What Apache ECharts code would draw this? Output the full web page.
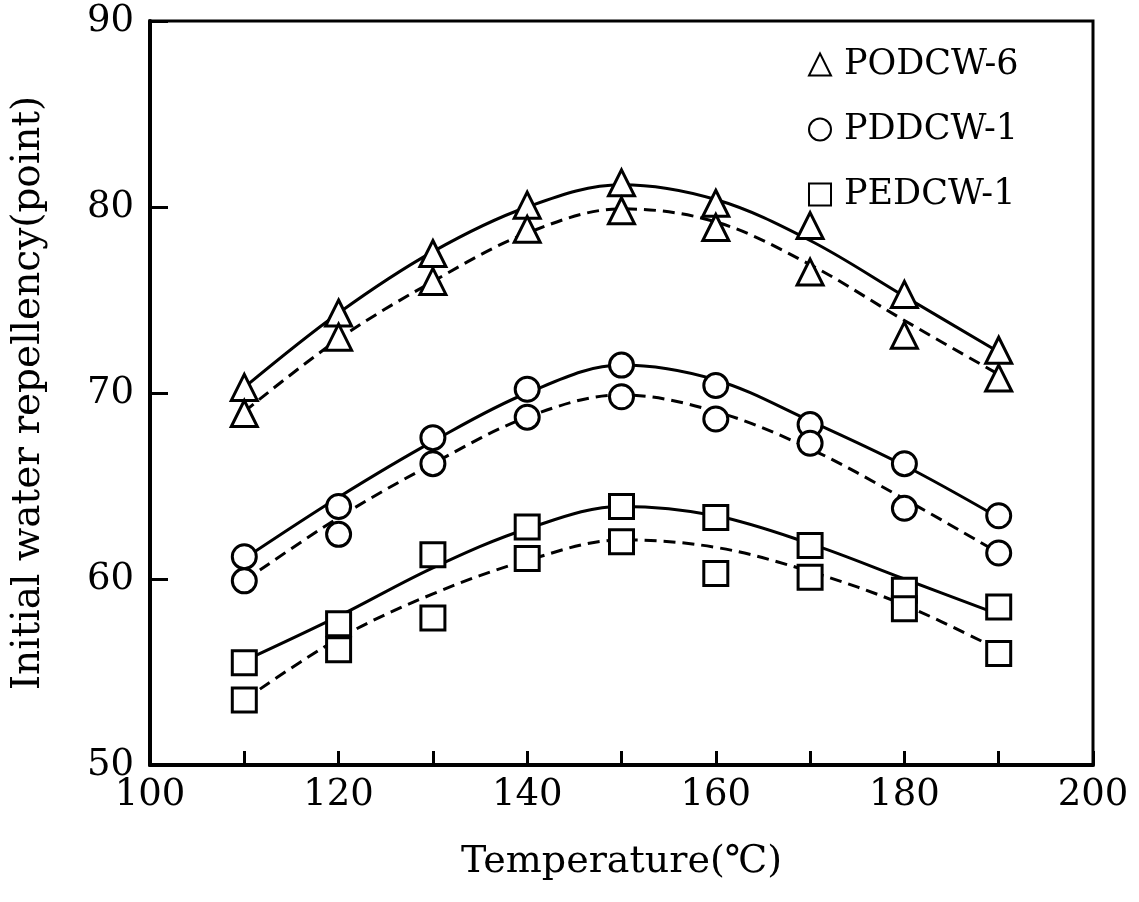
<!DOCTYPE html>
<html>
<head>
<meta charset="utf-8">
<script src="https://cdn.jsdelivr.net/npm/echarts@6/dist/echarts.min.js"></script>
<style>
  html, body { margin: 0; padding: 0; background: #fff; }
  #chart { width: 1139px; height: 902px; }
</style>
</head>
<body>
<div id="chart"></div>
<script>
// temperatures (℃)
var temps = [110, 120, 130, 140, 150, 160, 170, 180, 190];

// measured points, upper and lower set per fiber
var podcwUpper = [70.3, 74.3, 77.5, 80.1, 81.3, 80.2, 79.0, 75.3, 72.3];
var podcwLower = [68.9, 73.0, 76.0, 78.8, 79.8, 78.9, 76.5, 73.1, 70.8];
var pddcwUpper = [61.2, 63.9, 67.6, 70.2, 71.5, 70.4, 68.3, 66.2, 63.4];
var pddcwLower = [59.9, 62.4, 66.2, 68.7, 69.8, 68.6, 67.3, 63.8, 61.4];
var pedcwUpper = [55.5, 57.6, 61.3, 62.8, 63.9, 63.3, 61.8, 59.4, 58.5];
var pedcwLower = [53.5, 56.2, 57.9, 61.1, 62.0, 60.3, 60.1, 58.4, 56.0];

// fitted curves
var podcwFitSolid = [70.3, 74.3, 77.6, 80.0, 81.2, 80.4, 78.2, 75.2, 72.2];
var podcwFitDash  = [69.0, 72.9, 76.0, 78.6, 79.9, 79.2, 76.9, 73.9, 71.0];
var pddcwFitSolid = [61.1, 64.4, 67.4, 70.0, 71.5, 70.7, 68.5, 66.1, 63.3];
var pddcwFitDash  = [59.9, 63.3, 66.2, 68.7, 69.9, 69.0, 67.0, 64.3, 61.4];
var pedcwFitSolid = [55.6, 58.0, 60.6, 62.7, 63.9, 63.4, 61.9, 60.0, 58.1];
var pedcwFitDash  = [53.5, 56.8, 59.2, 61.0, 62.1, 61.7, 60.4, 58.6, 56.2];

var xTicks = [100, 120, 140, 160, 180, 200];
var yTicks = [50, 60, 70, 80, 90];

function pairs(ys) {
  return temps.map(function (t, i) { return [t, ys[i]]; });
}

var FONT = "DejaVu Serif";

function markers(name, symbol, size, ys) {
  return {
    name: name,
    type: "scatter",
    symbol: symbol,
    symbolSize: size,
    z: 5,
    itemStyle: { color: "#fff", borderColor: "#000", borderWidth: 3, opacity: 1 },
    data: pairs(ys)
  };
}

function curve(ys, dashed) {
  return {
    name: dashed ? "fit-dash" : "fit",
    type: "line",
    smooth: 0.35,
    symbol: "none",
    z: 2,
    lineStyle: { color: "#000", width: 3, type: dashed ? [12, 7] : "solid" },
    data: pairs(ys)
  };
}

var myChart = echarts.init(document.getElementById("chart"), null, { renderer: "canvas" });

var option = {
  animation: false,
  backgroundColor: "#fff",
  textStyle: { fontFamily: FONT, color: "#000" },
  grid: {
    left: 150, right: 46, top: 21, bottom: 137,
    show: true, borderColor: "#000", borderWidth: 3,
    containLabel: false
  },
  legend: {
    orient: "vertical",
    left: 803, top: 42,
    itemGap: 30,
    itemWidth: 22, itemHeight: 22,
    textStyle: { fontFamily: FONT, fontSize: 35, color: "#000", padding: [0, 0, 0, 8] },
    data: ["PODCW-6", "PDDCW-1", "PEDCW-1"]
  },
  xAxis: {
    type: "value",
    min: 100, max: 200, interval: 10,
    name: "Temperature(℃)",
    nameLocation: "middle",
    nameGap: 78,
    nameTextStyle: { fontFamily: FONT, fontSize: 38, color: "#000" },
    axisLine: { lineStyle: { color: "#000", width: 4 } },
    axisTick: { inside: true, length: 14, lineStyle: { color: "#000", width: 3 } },
    axisLabel: {
      margin: 12,
      fontFamily: FONT, fontSize: 37, color: "#000",
      formatter: function (v) { return xTicks.indexOf(v) >= 0 ? String(v) : ""; }
    },
    splitLine: { show: false }
  },
  yAxis: {
    type: "value",
    min: 50, max: 90, interval: 10,
    name: "Initial water repellency(point)",
    nameLocation: "middle",
    nameGap: 102,
    nameTextStyle: { fontFamily: FONT, fontSize: 39, color: "#000" },
    axisLine: { lineStyle: { color: "#000", width: 4 } },
    axisTick: { inside: true, length: 18, lineStyle: { color: "#000", width: 3 } },
    axisLabel: {
      margin: 16,
      fontFamily: FONT, fontSize: 37, color: "#000",
      formatter: function (v) { return yTicks.indexOf(v) >= 0 ? String(v) : ""; }
    },
    splitLine: { show: false }
  },
  series: [
    curve(podcwFitSolid, false),
    curve(podcwFitDash, true),
    curve(pddcwFitSolid, false),
    curve(pddcwFitDash, true),
    curve(pedcwFitSolid, false),
    curve(pedcwFitDash, true),
    markers("PODCW-6", "triangle", 26, podcwUpper),
    markers("PODCW-6", "triangle", 26, podcwLower),
    markers("PDDCW-1", "circle", 24, pddcwUpper),
    markers("PDDCW-1", "circle", 24, pddcwLower),
    markers("PEDCW-1", "rect", 24, pedcwUpper),
    markers("PEDCW-1", "rect", 24, pedcwLower)
  ]
};

myChart.setOption(option);
</script>
</body>
</html>
